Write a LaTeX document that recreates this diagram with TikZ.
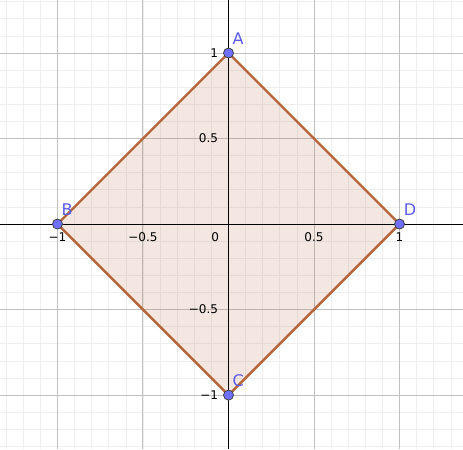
\documentclass[tikz,border=0pt]{standalone}
\usepackage{fontspec}
\setmainfont{DejaVu Sans}
\usetikzlibrary{positioning}
\definecolor{edgebrown}{RGB}{182,100,58}
\definecolor{ptblue}{RGB}{112,112,255}
\definecolor{lblblue}{RGB}{90,90,235}
\definecolor{minorgray}{RGB}{238,238,238}
\definecolor{majorgray}{RGB}{192,192,192}

\begin{document}
\begin{tikzpicture}[x=3cm,y=3cm,
 pt/.style={circle,draw=black!75,line width=0.4pt,fill=ptblue,minimum size=5pt,inner sep=0pt},
 lbl/.style={text=lblblue,font=\fontsize{8}{9}\selectfont,inner sep=0pt},
 tick/.style={font=\fontsize{6}{7}\selectfont,inner sep=0pt}]
\useasboundingbox (-1.336,-1.316) rectangle (1.371,1.310);
\fill[white] (-1.336,-1.316) rectangle (1.371,1.310);
% grid
\draw[minorgray,line width=0.35pt] (-1.336,-1.316) grid[step=0.1] (1.371,1.310);
\draw[majorgray,line width=0.5pt] (-1.336,-1.316) grid[step=0.5] (1.371,1.310);
% square
\coordinate (a) at (0,1);
\coordinate (b) at (-1,0);
\coordinate (c) at (0,-1);
\coordinate (d) at (1,0);
\fill[edgebrown,fill opacity=0.15] (a) -- (d) -- (c) -- (b) -- cycle;
% axes
\draw[black,line width=0.5pt] (-1.336,0) -- (1.371,0);
\draw[black,line width=0.5pt] (0,-1.316) -- (0,1.310);
\foreach \v/\t [count=\i] in {-1/−1,-0.5/−0.5,0.5/0.5,1/1}
 \node[tick,below=4pt] (xt\i) at (\v,0) {\t};
\foreach \v/\t [count=\i] in {-1/−1,-0.5/−0.5,0.5/0.5,1/1}
 \node[tick,left=5pt] (yt\i) at (0,\v) {\t};
\node[tick,anchor=north east,xshift=-4.5pt,yshift=-4pt] (o) at (0,0) {0};
\draw[edgebrown,line width=1.2pt,line join=round] (a) -- (d) -- (c) -- (b) -- cycle;
% points
\foreach \p/\n in {a/A,b/B,c/C,d/D}{
 \node[pt] (\n) at (\p) {};
 \node[lbl,above right=2pt and 0pt of \n] (lab\n) {\n};
}
\end{tikzpicture}
\end{document}
